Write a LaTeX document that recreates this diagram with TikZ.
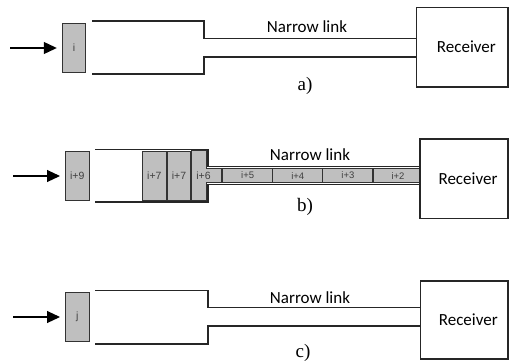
\documentclass[tikz,border=0pt]{standalone}
\usepackage{fontspec}
\setmainfont{Liberation Serif}
\setsansfont{Carlito}
\newfontfamily\pktfont{Liberation Sans}
\usetikzlibrary{arrows.meta}

\begin{document}
\begin{tikzpicture}[x=1pt,y=-1pt]
        \tikzstyle{channel}=[draw=black!85,line width=1.4pt]
        \tikzstyle{packet}=[draw=black!80,fill=black!25,line width=0.9pt,inner sep=0pt,
            minimum width=23.5pt,minimum height=49pt,text=black!75,
            font=\pktfont\fontsize{10.5}{10.5}\selectfont]
        \tikzstyle{slot}=[packet,minimum width=50pt,minimum height=13.7pt,
            font=\pktfont\fontsize{9.5}{9.5}\selectfont]
        \tikzstyle{receiver}=[draw=black!85,fill=white,line width=1.2pt,inner sep=0pt]
        \tikzstyle{feed}=[-{Triangle[length=13pt,width=12pt]},line width=1.1pt,shorten >=5pt]
        \tikzstyle{caption}=[font=\sffamily\fontsize{17}{17}\selectfont]
        \tikzstyle{tag}=[font=\fontsize{19}{19}\selectfont]

        \useasboundingbox (0,0) rectangle (509,364);

        % a) the single packet waits in front of the link
        \draw[channel] (92,21) -- (204,21) -- (204,38.5) -- (416.7,38.5);
        \draw[channel] (92,74) -- (204,74) -- (204,57) -- (416.7,57);
        \node[packet] (pkt-a) at (74,47.5) {i};
        \coordinate (in-a) at (10,48);
        \draw[feed] (in-a) -- (pkt-a.west |- in-a);
        \node[receiver,minimum width=91.3pt,minimum height=79.5pt] (rx-a) at (462.4,47.2) {};
        \node[caption] (rxt-a) at ([xshift=4pt]rx-a.center) {Receiver};
        \node[caption] (nl-a) at (307,27) {Narrow link};
        \node[tag] (tag-a) at (305,86) {a)};

        % b) the link is filled up with packets
        \draw[channel] (95,149.5) -- (208,149.5) -- (208,166.7) -- (420,166.7);
        \draw[channel] (95,202) -- (208,202) -- (208,184.3) -- (420,184.3);
        \node[packet] (pkt-b) at (77.2,175.5) {i+9};
        \coordinate (in-b) at (13,176);
        \draw[feed] (in-b) -- (pkt-b.west |- in-b);

        % packets queued in the wide part
        \foreach \name / \x in {1/154.4,2/179}
            \node[packet] (W-\name) at (\x,175.7) {i+7};

        % the packet squeezed into the narrow part
        \draw[packet] (191.7,150.9) -- (206,150.9) -- (206,168.8) -- (221.7,168.8)
            -- (221.7,182.5) -- (206,182.5) -- (206,200.5) -- (191.7,200.5) -- cycle;
        \node[text=black!75,font=\pktfont\fontsize{10.5}{10.5}\selectfont] (W-3) at (203.5,175.7) {i+6};

        % packets travelling along the narrow link
        \foreach \name / \x in {5/247.7,4/297.8,3/347.9,2/398}
            \node[slot] (N-\name) at (\x,175.6) {i+\name};

        \node[receiver,minimum width=88pt,minimum height=79.3pt] (rx-b) at (464,178.7) {};
        \node[caption] (rxt-b) at ([xshift=4pt]rx-b.center) {Receiver};
        \node[caption] (nl-b) at (310,155) {Narrow link};
        \node[tag] (tag-b) at (305,207) {b)};

        % c) the next packet after the link drained
        \draw[channel] (95.3,290.7) -- (208,290.7) -- (208,307.7) -- (420.7,307.7);
        \draw[channel] (95.3,344) -- (208,344) -- (208,326) -- (420.7,326);
        \node[packet] (pkt-c) at (77.2,317) {j};
        \coordinate (in-c) at (13,317);
        \draw[feed] (in-c) -- (pkt-c.west |- in-c);
        \node[receiver,minimum width=87.3pt,minimum height=78pt] (rx-c) at (464.3,320) {};
        \node[caption] (rxt-c) at ([xshift=4pt]rx-c.center) {Receiver};
        \node[caption] (nl-c) at (310,297.3) {Narrow link};
        \node[tag] (tag-c) at (303,353) {c)};
\end{tikzpicture}
\end{document}
